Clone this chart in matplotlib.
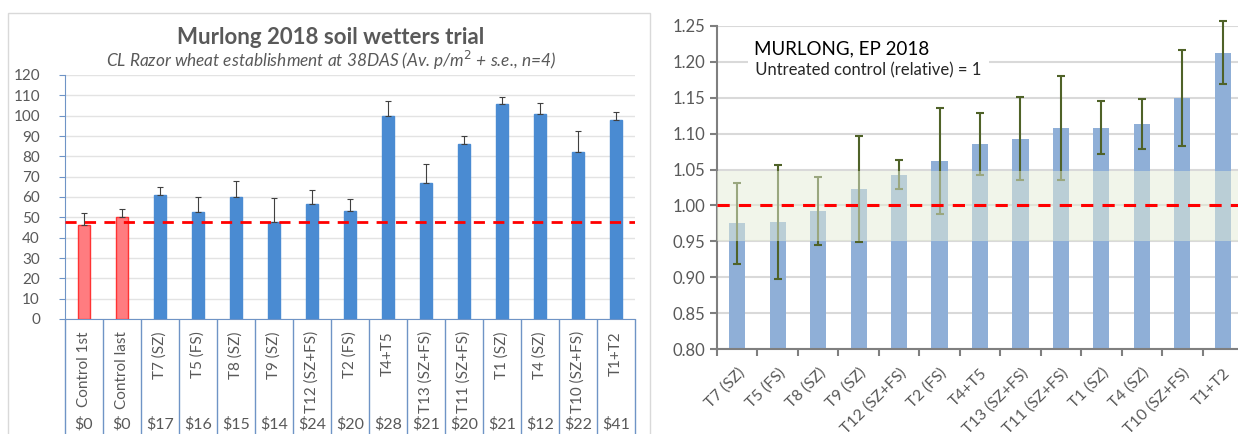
import numpy as np
import matplotlib.pyplot as plt
from matplotlib.patches import Rectangle

plt.rcParams['font.family'] = ['Lato', 'DejaVu Sans']

# left chart data
cats_l = ['Control 1st', 'Control last', 'T7 (SZ)', 'T5 (FS)', 'T8 (SZ)', 'T9 (SZ)',
          'T12 (SZ+FS)', 'T2 (FS)', 'T4+T5', 'T13 (SZ+FS)', 'T11 (SZ+FS)', 'T1 (SZ)',
          'T4 (SZ)', 'T10 (SZ+FS)', 'T1+T2']
costs = ['$0', '$0', '$17', '$16', '$15', '$14', '$24', '$20', '$28', '$21', '$20',
         '$21', '$12', '$22', '$41']
plants = [46, 50, 61, 52.5, 60, 47.5, 56.5, 53, 100, 67, 86, 105.5, 101, 82, 98]
plants_se = [6, 4, 4, 7.5, 8, 12, 7, 6, 7, 9, 4, 3.5, 5, 10.5, 4]
ref_level = 47.5

# right chart data
cats_r = ['T7 (SZ)', 'T5 (FS)', 'T8 (SZ)', 'T9 (SZ)', 'T12 (SZ+FS)', 'T2 (FS)', 'T4+T5',
          'T13 (SZ+FS)', 'T11 (SZ+FS)', 'T1 (SZ)', 'T4 (SZ)', 'T10 (SZ+FS)', 'T1+T2']
rel = [0.975, 0.977, 0.992, 1.023, 1.043, 1.062, 1.086, 1.093, 1.108, 1.108, 1.113, 1.150, 1.213]
rel_se = [0.056, 0.079, 0.047, 0.074, 0.020, 0.074, 0.043, 0.058, 0.073, 0.037, 0.035, 0.067, 0.044]
band = (0.95, 1.048)

W, H = 1238, 434
fig = plt.figure(figsize=(W / 100, H / 100), dpi=100)
grey = '#595959'
axblue = '#6f94c6'

# left panel frame
fig.patches.append(Rectangle((8 / W, -0.05), (650 - 8) / W, 1.05 - 13 / H, transform=fig.transFigure,
                             fill=False, ec='#d9d9d9', lw=1))

# %% left chart
ax = fig.add_axes([65 / W, (H - 319) / H, 570 / W, (319 - 75) / H])
x = np.arange(len(cats_l))
cols = ['#ff7c80', '#ff7c80'] + ['#4a8bd2'] * (len(cats_l) - 2)
edges = ['#ff3333', '#ff3333'] + ['#4a8bd2'] * (len(cats_l) - 2)
ax.bar(x, plants, width=0.32, color=cols, edgecolor=edges, lw=1, zorder=3)
ax.errorbar(x, plants, yerr=[np.zeros(len(plants)), plants_se], fmt='none', ecolor='#404040',
            elinewidth=0.8, capsize=2.5, capthick=0.8, zorder=4)
ax.axhline(ref_level, color='#ff0000', ls=(0, (4, 3)), lw=2, zorder=5)
ax.set_xlim(-0.5, len(cats_l) - 0.5)
ax.set_ylim(0, 120)
ax.set_yticks(np.arange(0, 121, 10))
ax.yaxis.grid(True, color='#e3e3e3', lw=1)
ax.set_axisbelow(True)
for s in ['top', 'right']:
    ax.spines[s].set_visible(False)
for s in ['left', 'bottom']:
    ax.spines[s].set_color(axblue)
ax.tick_params(axis='y', colors=axblue, labelcolor=grey, labelsize=11, length=4, pad=14)
ax.set_xticks([])
trans = ax.get_xaxis_transform()
ax.vlines(np.arange(len(cats_l) + 1) - 0.5, -0.6, 0, transform=trans, color=axblue, lw=1,
          clip_on=False)
for i, (c, d) in enumerate(zip(cats_l, costs)):
    ax.text(i, -0.05, c, rotation=90, ha='center', va='top', transform=trans, color=grey,
            fontsize=11)
    ax.text(i, -0.43, d, ha='center', va='center', transform=trans, color=grey, fontsize=11.5)
fig.text(331 / W, 1 - 38 / H, 'Murlong 2018 soil wetters trial', ha='center', va='center',
         fontsize=16, fontweight='bold', color=grey)
fig.text(331 / W, 1 - 60 / H, 'CL Razor wheat establishment at 38DAS (Av. p/m$^2$ + s.e., n=4)',
         ha='center', va='center', fontsize=12.4, style='italic', color=grey)

# %% right chart
ax2 = fig.add_axes([717 / W, (H - 349) / H, (1243 - 717) / W, (349 - 26) / H])
xr = np.arange(len(cats_r))
ax2.bar(xr, rel, width=0.4, color='#8fafd7', zorder=2)
eb = ax2.errorbar(xr, rel, yerr=rel_se, fmt='none', ecolor='#4f6228', elinewidth=1.5,
                  capsize=3, capthick=1.5, zorder=3)
for art in eb.lines[1] + eb.lines[2]:
    art.set_clip_on(False)
ax2.axhspan(band[0], band[1], color=(229 / 255, 237 / 255, 214 / 255), alpha=0.5, lw=0, zorder=4)
ax2.axhline(1.0, color='#ff0000', ls=(0, (4, 3)), lw=2.2, zorder=5)
ax2.set_xlim(-0.5, len(cats_r) - 0.5)
ax2.set_ylim(0.8, 1.25)
ax2.set_yticks(np.arange(0.8, 1.251, 0.05))
ax2.yaxis.set_major_formatter(plt.FormatStrFormatter('%.2f'))
ax2.yaxis.grid(True, color='#d9d9d9', lw=1.5, zorder=0)
ax2.set_axisbelow(True)
for s in ['top', 'right']:
    ax2.spines[s].set_visible(False)
for s in ['left', 'bottom']:
    ax2.spines[s].set_color('#7f7f7f')
    ax2.spines[s].set_linewidth(1.5)
ax2.tick_params(axis='y', colors='#7f7f7f', labelcolor=grey, labelsize=12, length=5, width=1.5)
ax2.set_xticks(xr)
ax2.set_xticklabels(cats_r, rotation=45, ha='right', rotation_mode='anchor', color=grey,
                    fontsize=11.5)
ax2.set_xticks(np.arange(len(cats_r) + 1) - 0.5, minor=True)
ax2.tick_params(axis='x', which='major', length=0, pad=12)
ax2.tick_params(axis='x', which='minor', length=5, width=1.5, colors='#7f7f7f')
ax2.text(0.07, 0.93, 'MURLONG, EP 2018', transform=ax2.transAxes, fontsize=13.5,
         va='center', ha='left', color='black', zorder=6)
ax2.text(0.065, 0.862, ' Untreated control (relative) = 1 ', transform=ax2.transAxes,
         fontsize=12, va='center', ha='left', color='#262626', zorder=6,
         bbox=dict(fc='white', ec='none', pad=2))

fig.savefig('out.png', dpi=100)
